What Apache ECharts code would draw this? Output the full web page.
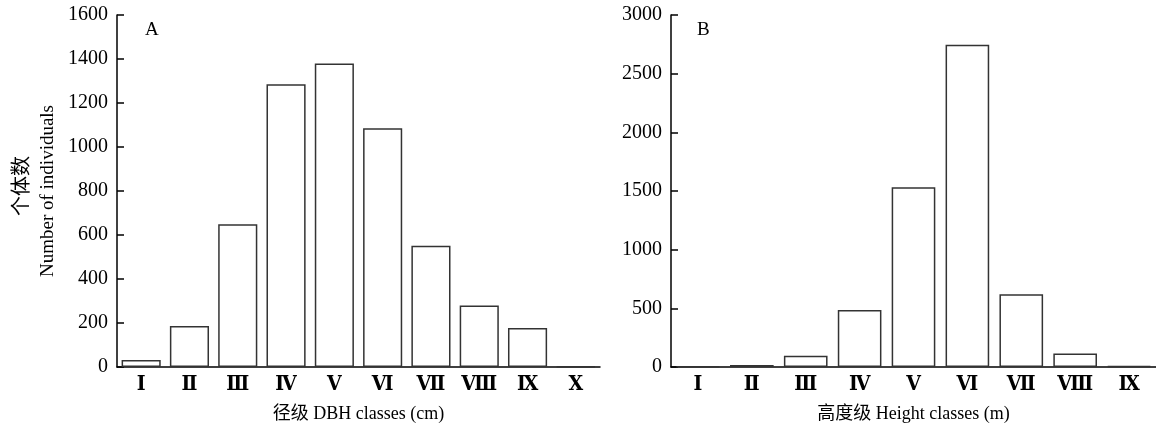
<!DOCTYPE html>
<html>
<head>
<meta charset="utf-8">
<script src="https://cdn.jsdelivr.net/npm/echarts@6/dist/echarts.min.js"></script>
<style>html,body{margin:0;padding:0;background:#fff}#c{width:1156px;height:428px}</style>
</head>
<body>
<div id="c"></div>
<script>
const dbhClasses = ['Ⅰ','Ⅱ','Ⅲ','Ⅳ','Ⅴ','Ⅵ','Ⅶ','Ⅷ','Ⅸ','Ⅹ'];
const dbhCounts = [32, 186, 649, 1285, 1379, 1085, 551, 280, 177, 3];
const heightClasses = ['Ⅰ','Ⅱ','Ⅲ','Ⅳ','Ⅴ','Ⅵ','Ⅶ','Ⅷ','Ⅸ'];
const heightCounts = [5, 17, 96, 485, 1533, 2747, 621, 116, 8];
const dbhTicks = [0, 200, 400, 600, 800, 1000, 1200, 1400, 1600];
const heightTicks = [0, 500, 1000, 1500, 2000, 2500, 3000];

const serif = '"Liberation Serif","Times New Roman",serif';
const cjk = '"Liberation Serif","Noto Sans CJK SC",serif';
const roman = '"DejaVu Serif Condensed","DejaVu Serif","Liberation Serif",serif';

const chart = echarts.init(document.getElementById('c'), null, {renderer:'canvas'});

function xAxisCfg(idx, cats, name){
  return {
    type:'category', gridIndex:idx, data:cats,
    axisLine:{lineStyle:{color:'#000', width:1.5}},
    axisTick:{show:false},
    axisLabel:{color:'#000', fontFamily:roman, fontWeight:'bold', fontSize:21, margin:7},
    name:name, nameLocation:'middle', nameGap:38,
    nameTextStyle:{color:'#000', fontFamily:cjk, fontSize:18}
  };
}
function yAxisCfg(idx, ticks){
  return {
    type:'value', gridIndex:idx, min:ticks[0], max:ticks[ticks.length-1],
    interval:ticks[1]-ticks[0],
    axisLine:{show:true, lineStyle:{color:'#000', width:1.5}},
    axisTick:{show:true, inside:true, length:7, lineStyle:{color:'#000', width:1.5}},
    splitLine:{show:false},
    axisLabel:{color:'#000', fontFamily:serif, fontSize:20, margin:9, formatter:function(v){return String(v);}}
  };
}
function barSeries(idx, vals){
  return {
    type:'bar', xAxisIndex:idx, yAxisIndex:idx, data:vals,
    barCategoryGap:'19%',
    itemStyle:{color:'#fff', borderColor:'#333', borderWidth:1.5},
    silent:true, animation:false
  };
}

chart.setOption({
  animation:false,
  grid:[
    {left:117, top:15, width:483, height:352},
    {left:671, top:15, width:487, height:353}
  ],
  xAxis:[xAxisCfg(0, dbhClasses, '径级 DBH classes (cm)'), xAxisCfg(1, heightClasses, '高度级 Height classes (m)')],
  yAxis:[yAxisCfg(0, dbhTicks), yAxisCfg(1, heightTicks)],
  series:[barSeries(0, dbhCounts), barSeries(1, heightCounts)],
  graphic:[
    {type:'text', left:145, top:21, style:{text:'A', fontFamily:serif, fontSize:19, fill:'#000'}},
    {type:'text', left:697, top:21, style:{text:'B', fontFamily:serif, fontSize:19, fill:'#000'}},
    {type:'text', x:20, y:186, rotation:Math.PI/2, style:{text:'个体数', fontFamily:'"Noto Sans CJK SC",serif', fontSize:20, fill:'#000', align:'center', verticalAlign:'middle'}},
    {type:'text', x:48, y:191, rotation:Math.PI/2, style:{text:'Number of individuals', fontFamily:serif, fontSize:19, fill:'#000', align:'center', verticalAlign:'middle'}}
  ]
});
</script>
</body>
</html>
